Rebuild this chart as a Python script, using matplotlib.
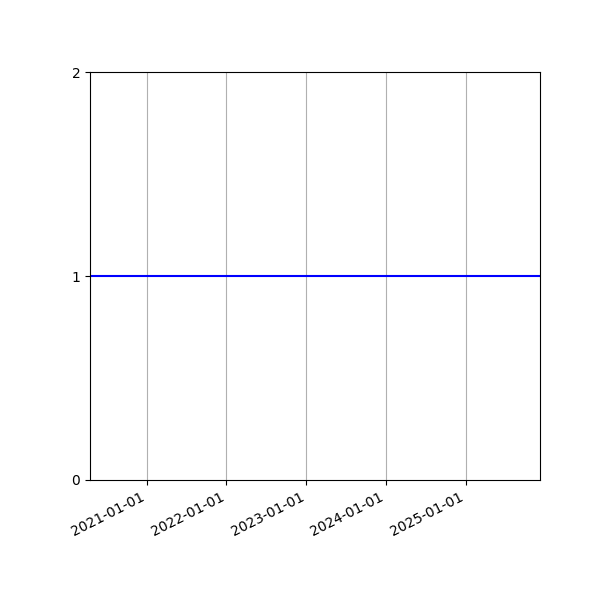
import matplotlib
matplotlib.use("Agg")
import matplotlib.pyplot as plt
import matplotlib.dates as mdates
import numpy as np

dates = np.array(["2020-04-17", "2025-12-05"], dtype="datetime64[D]")
values = [1, 1]
tick_dates = np.array(["2021-01-01", "2022-01-01", "2023-01-01", "2024-01-01", "2025-01-01"], dtype="datetime64[D]")

fig, ax = plt.subplots(figsize=(6, 6), dpi=100)
ax.plot(dates, values, color="blue")
ax.set_xlim(dates[0], dates[-1])
ax.set_ylim(0, 2)
ax.set_yticks([0, 1, 2])
ax.set_xticks(tick_dates)
ax.xaxis.set_major_formatter(mdates.DateFormatter("%Y-%m-%d"))
ax.grid(axis="x", color="#b0b0b0")
for lbl in ax.get_xticklabels():
    lbl.set_rotation(27)
    lbl.set_ha("right")
fig.subplots_adjust(left=0.15, right=0.9, top=0.88, bottom=0.2)
plt.savefig("out.png", format="png")
